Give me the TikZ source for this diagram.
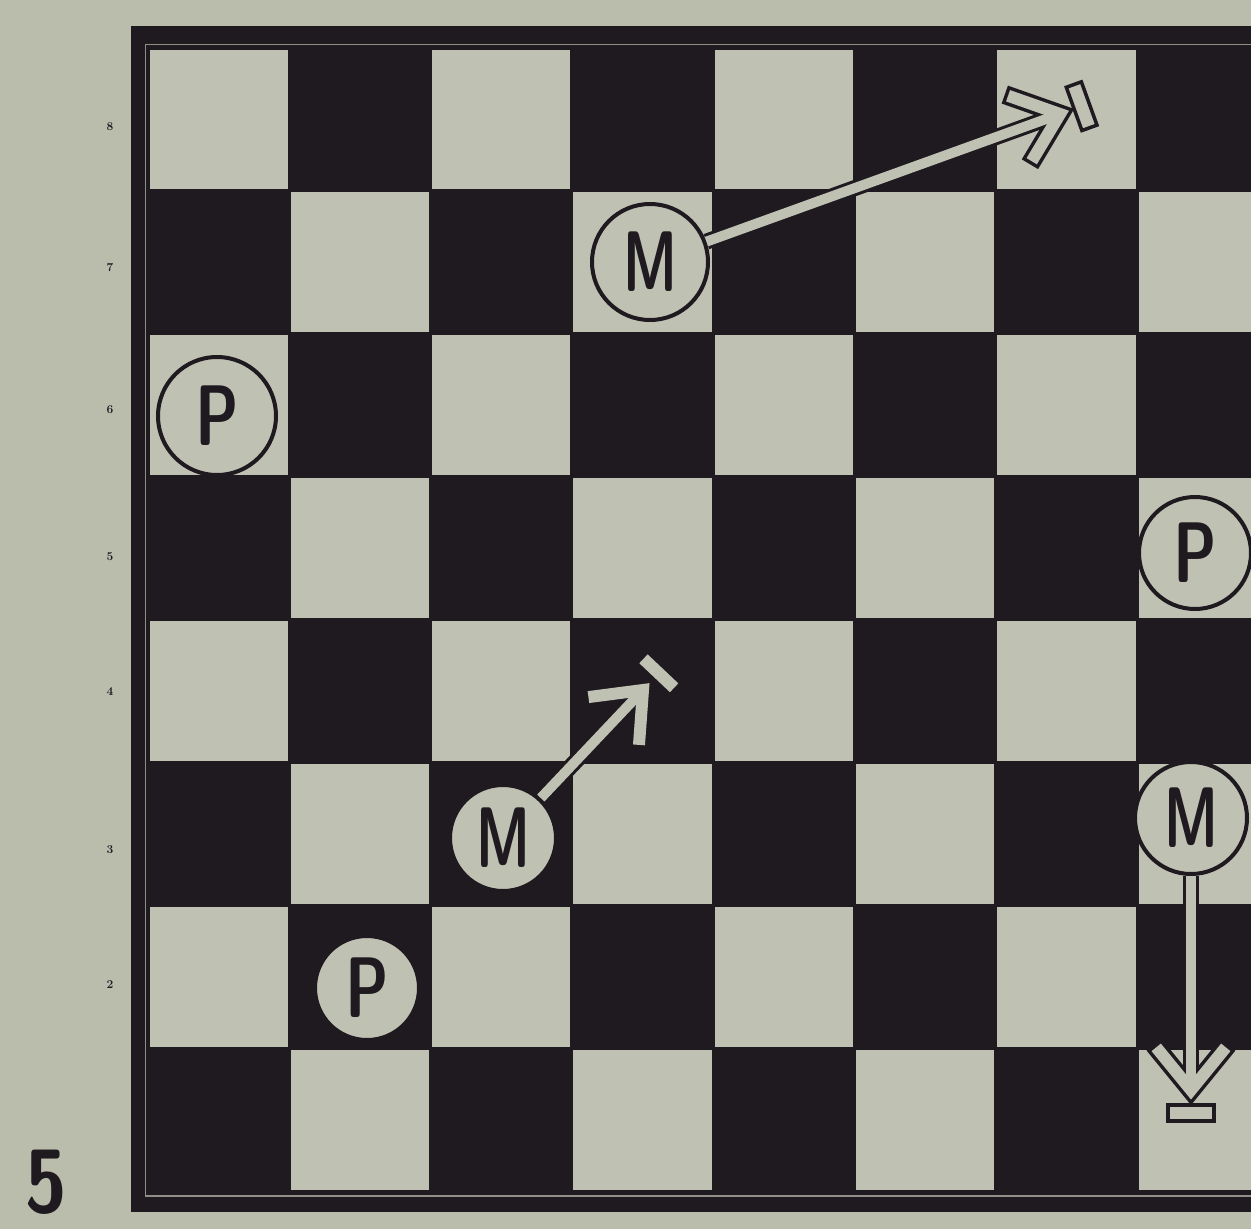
\documentclass[tikz,border=0pt]{standalone}
\usepackage{graphicx}
\definecolor{paper}{RGB}{186,188,172}
\definecolor{lightsq}{RGB}{191,193,179}
\definecolor{ink}{RGB}{30,26,32}
\newcommand\movearrow[3]{%
  \draw[ink, line width=16pt] (#1) -- (#2);
  \begin{scope}[shift={(#2)}, rotate=#3]
    \draw[ink, line width=19pt, line cap=rect, line join=miter] (-38,31) -- (0,0) -- (-38,-31);
  \end{scope}
  \draw[lightsq, line width=10pt] (#1) -- (#2);
  \begin{scope}[shift={(#2)}, rotate=#3]
    \draw[lightsq, line width=12pt, line cap=rect, line join=miter] (-38,31) -- (0,0) -- (-38,-31);
    \draw[ink, fill=lightsq, line width=3.5pt] (15,-23) rectangle (31,23);
  \end{scope}
}
\begin{document}
\begin{tikzpicture}[x=1pt,y=-1pt,
  piece/.style={circle, draw=ink, fill=lightsq, line width=4pt, minimum size=#1,
    inner sep=0pt, text=ink, font=\fontsize{86}{86}\selectfont\sffamily\bfseries},
  rank/.style={text=ink, font=\fontsize{12}{12}\selectfont\bfseries, inner sep=0pt},
  diagno/.style={text=ink, inner sep=0pt, font=\fontsize{90}{90}\selectfont\sffamily\bfseries}]
\useasboundingbox (0,0) rectangle (1251,1229);
\clip (0,0) rectangle (1251,1229);
\fill[paper] (0,0) rectangle (1251,1229);
% frame
\fill[ink] (131,26) rectangle (1320,1212);
\draw[lightsq!70!ink, line width=1.6pt] (145.5,44.5) rectangle (1320,1196);
% board
\fill[ink] (148,48) rectangle (1320,1191);
\foreach \r in {0,...,7}{
  \foreach \c in {0,...,7}{
    \pgfmathtruncatemacro\odd{mod(\r+\c,2)}
    \ifnum\odd=0
      \fill[lightsq] ({148+\c*141.3+1.5},{48+\r*142.9+1.5}) rectangle ++(138.3,139.9);
    \fi
  }
}
% rank marks
\node[rank] (r8) at (110,127) {8};
\node[rank] (r7) at (110,268) {7};
\node[rank] (r6) at (110,410) {6};
\node[rank] (r5) at (110,557) {5};
\node[rank] (r4) at (110,692) {4};
\node[rank] (r3) at (110,850) {3};
\node[rank] (r2) at (110,985) {2};
% diagram number
\node[diagno] (num) at (46,1182) {\scalebox{0.84}[1]{5}};
% pieces
\node[piece=116pt] (m1) at (650,262) {\scalebox{0.64}[1]{M}};
\node[piece=118pt] (p1) at (217,416) {\scalebox{0.72}[1]{P}};
\node[piece=112pt] (p2) at (1195,553) {\scalebox{0.72}[1]{P}};
\node[piece=106pt] (m2) at (503,838) {\scalebox{0.64}[1]{M}};
\node[piece=112pt] (m3) at (1191,818) {\scalebox{0.64}[1]{M}};
\node[piece=104pt] (p3) at (367,988) {\scalebox{0.72}[1]{P}};
% move targets
\coordinate (t1) at (1060,114);
\coordinate (t2) at (643,690);
\coordinate (t3) at (1191,1090);
\movearrow{m1}{t1}{19.85}
\movearrow{m2}{t2}{46.6}
\movearrow{m3}{t3}{-90}
\end{tikzpicture}
\end{document}
